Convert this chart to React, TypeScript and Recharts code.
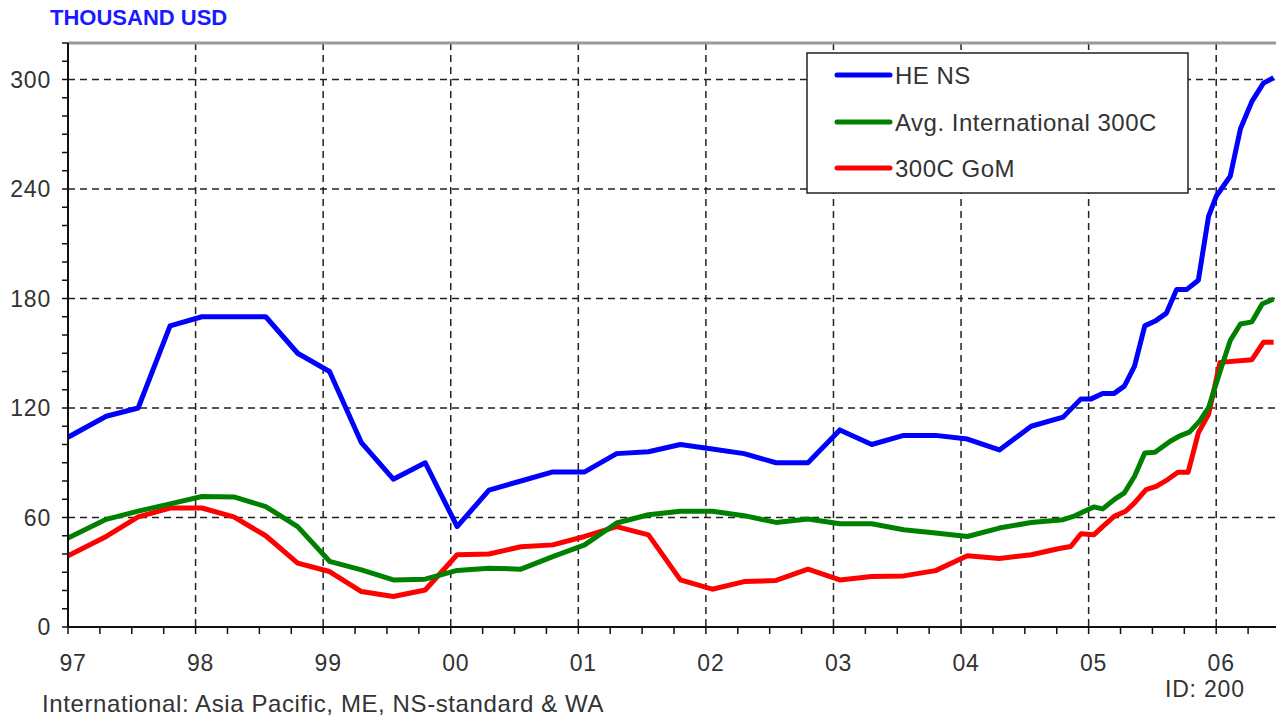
import React from 'react';
import { LineChart, Line, XAxis, YAxis, CartesianGrid, ReferenceLine } from 'recharts';

// ---- Data ----
const yearLabels = ['97', '98', '99', '00', '01', '02', '03', '04', '05', '06'];
const firstYear = 1997;

const heNsX = [1997.0, 1997.3, 1997.55, 1997.8, 1998.05, 1998.3, 1998.55, 1998.8, 1999.05, 1999.3, 1999.55, 1999.8,
  2000.05, 2000.3, 2000.55, 2000.8, 2001.05, 2001.3, 2001.55, 2001.8, 2002.05, 2002.3, 2002.55, 2002.8,
  2003.05, 2003.3, 2003.55, 2003.8, 2004.05, 2004.3, 2004.55, 2004.8, 2004.94, 2005.02, 2005.11, 2005.2,
  2005.28, 2005.36, 2005.44, 2005.53, 2005.61, 2005.69, 2005.77, 2005.86, 2005.94, 2006.0, 2006.11, 2006.19,
  2006.28, 2006.37, 2006.45];
const heNsY = [104, 115.5, 120, 165, 170, 170, 170, 150, 140, 101, 81, 90,
  55, 75, 80, 85, 85, 95, 96, 100, 97.5, 95, 90, 90,
  108, 100, 105, 105, 103, 97, 110, 115, 125, 125, 128, 128,
  132, 143, 165, 168, 172, 185, 185, 190, 225, 236, 247, 273,
  288, 298, 301];

const intlX = [1997.0, 1997.3, 1997.55, 1997.8, 1998.05, 1998.3, 1998.55, 1998.8, 1999.05, 1999.3, 1999.55, 1999.8,
  2000.05, 2000.3, 2000.55, 2000.8, 2001.05, 2001.3, 2001.55, 2001.8, 2002.05, 2002.3, 2002.55, 2002.8,
  2003.05, 2003.3, 2003.55, 2003.8, 2004.05, 2004.3, 2004.55, 2004.8, 2004.88, 2005.04, 2005.11, 2005.2,
  2005.28, 2005.36, 2005.44, 2005.52, 2005.64, 2005.72, 2005.79, 2005.87, 2005.94, 2006.03, 2006.11, 2006.19,
  2006.28, 2006.36, 2006.45];
const intlY = [48.7, 59, 63.5, 67.5, 71.5, 71.3, 66, 55, 36, 31.3, 25.8, 26.2,
  31, 32.2, 31.7, 38.6, 45, 57, 61.5, 63.4, 63.4, 61, 57.3, 59.2,
  56.6, 56.6, 53.3, 51.5, 49.6, 54.2, 57.3, 58.8, 60.6, 65.8, 64.7, 69.8,
  73.5, 82.6, 95.4, 95.8, 101.8, 104.9, 106.8, 112.8, 120.2, 140, 157,
  166, 167.2, 177, 179.7];

const gomX = [1997.0, 1997.3, 1997.55, 1997.8, 1998.05, 1998.3, 1998.55, 1998.8, 1999.05, 1999.3, 1999.55, 1999.8,
  2000.05, 2000.3, 2000.55, 2000.8, 2001.05, 2001.3, 2001.55, 2001.8, 2002.05, 2002.3, 2002.55, 2002.8,
  2003.05, 2003.3, 2003.55, 2003.8, 2004.05, 2004.3, 2004.55, 2004.77, 2004.86, 2004.94, 2005.04, 2005.11,
  2005.2, 2005.29, 2005.36, 2005.45, 2005.53, 2005.62, 2005.7, 2005.78, 2005.86, 2005.94, 2006.03, 2006.28,
  2006.37, 2006.45];
const gomY = [39, 49.6, 60.3, 65.2, 65.2, 60.3, 50, 35, 30.4, 19.4, 16.7, 20.3,
  39.6, 40, 44, 45, 49.6, 55, 50.5, 25.8, 20.7, 24.9, 25.5, 31.7,
  25.8, 27.7, 28, 30.9, 39, 37.5, 39.6, 43, 44.1, 51.1, 50.5, 55,
  60.6, 63.4, 68, 75.3, 77.1, 80.8, 84.8, 84.8, 106.4, 116.5, 145, 146.5,
  156, 156];

const seriesNames = ['HE NS', 'Avg. International 300C', '300C GoM'];
const seriesColors = ['#0000ff', '#008000', '#ff0000'];

const yGridValues = [60, 120, 180, 240, 300];
const yMinorStep = 10;
const yMax = 320;
const xMax = 2006.5;

const titleText = 'THOUSAND USD';
const footText = 'International: Asia Pacific, ME, NS-standard & WA';
const idText = 'ID: 200';

// ---- Derived tables for the library ----
const toRows = (xs: number[], ys: number[]) => xs.map((x, i) => ({ x, y: ys[i] }));
const heNsData = toRows(heNsX, heNsY);
const intlData = toRows(intlX, intlY);
const gomData = toRows(gomX, gomY);

const yTicks: number[] = [];
for (let v = 0; v <= yMax; v += yMinorStep) yTicks.push(v);
const xTicks: number[] = [];
for (let v = firstYear; v <= xMax + 1e-9; v += 0.25) xTicks.push(v);
const xGridValues = yearLabels.slice(1).map((_, i) => firstYear + i + 1);

const FONT = '"Liberation Sans", Arial, sans-serif';
const TEXT = '#333';

const YTick = (props: any) => {
  const { x, y, payload } = props;
  if (payload.value % 60 !== 0) return null;
  return (
    <text x={x} y={y} dy="0.36em" textAnchor="end" fill={TEXT} fontSize={23}
      style={{ letterSpacing: '0.8px' }} fontFamily={FONT}>
      {payload.value}
    </text>
  );
};

const XTick = (props: any) => {
  const { x, y, payload } = props;
  const v = payload.value;
  if (Math.abs(v - Math.round(v)) > 1e-6) return null;
  const label = yearLabels[Math.round(v) - firstYear];
  if (!label) return null;
  return (
    <text x={x + 5} y={y} dy="0.71em" textAnchor="middle" fill={TEXT} fontSize={23}
      style={{ letterSpacing: '0.8px' }} fontFamily={FONT}>
      {label}
    </text>
  );
};

export default function App() {
  const lineYs = [75, 122, 168];
  return (
    <div style={{ position: 'fixed', left: 0, top: 0, width: 1276, height: 720, overflow: 'hidden', background: '#fff' }}>
      <LineChart width={1284} height={720} margin={{ top: 43, right: 4, bottom: 63, left: 0 }}>
        <CartesianGrid
          stroke="#222"
          strokeWidth={1.5}
          strokeDasharray="7 5"
          horizontalValues={yGridValues}
          verticalValues={xGridValues}
        />
        <XAxis
          dataKey="x"
          type="number"
          domain={[firstYear, xMax]}
          ticks={xTicks}
          interval={0}
          allowDataOverflow
          height={30}
          tickSize={7}
          tickMargin={21}
          tick={<XTick />}
          axisLine={{ stroke: '#111', strokeWidth: 2 }}
          tickLine={{ stroke: '#111', strokeWidth: 1.5 }}
        />
        <YAxis
          type="number"
          domain={[0, yMax]}
          ticks={yTicks}
          interval={0}
          allowDataOverflow
          width={68}
          tickSize={6}
          tickMargin={11}
          tick={<YTick />}
          axisLine={{ stroke: '#111', strokeWidth: 2 }}
          tickLine={{ stroke: '#111', strokeWidth: 1.5 }}
        />
        <ReferenceLine y={yMax} stroke="#999" strokeWidth={3} ifOverflow="visible" />
        <Line data={gomData} dataKey="y" type="linear" stroke={seriesColors[2]} strokeWidth={5}
          dot={false} isAnimationActive={false} strokeLinejoin="round" name={seriesNames[2]} />
        <Line data={intlData} dataKey="y" type="linear" stroke={seriesColors[1]} strokeWidth={5}
          dot={false} isAnimationActive={false} strokeLinejoin="round" name={seriesNames[1]} />
        <Line data={heNsData} dataKey="y" type="linear" stroke={seriesColors[0]} strokeWidth={5}
          dot={false} isAnimationActive={false} strokeLinejoin="round" name={seriesNames[0]} />
      </LineChart>
      <svg width={1276} height={720} style={{ position: 'absolute', left: 0, top: 0, pointerEvents: 'none' }}>
        <text x={50} y={25} fill="#1a1aff" fontSize={22} fontWeight="bold" fontFamily={FONT}>{titleText}</text>
        <rect x={807} y={53} width={381} height={140} fill="#fff" stroke="#222" strokeWidth={1.5} />
        {seriesNames.map((n, i) => (
          <g key={n}>
            <line x1={837} x2={890} y1={lineYs[i]} y2={lineYs[i]} stroke={seriesColors[i]} strokeWidth={5} strokeLinecap="round" />
            <text x={895} y={lineYs[i] + 9} fill={TEXT} fontSize={24} fontFamily={FONT} style={{ letterSpacing: '0.5px' }}>{n}</text>
          </g>
        ))}
        <text x={42} y={712} fill={TEXT} fontSize={24} fontFamily={FONT} style={{ letterSpacing: '0.6px' }}>{footText}</text>
        <text x={1165} y={697} fill={TEXT} fontSize={23} fontFamily={FONT} style={{ letterSpacing: '0.8px' }}>{idText}</text>
      </svg>
    </div>
  );
}
